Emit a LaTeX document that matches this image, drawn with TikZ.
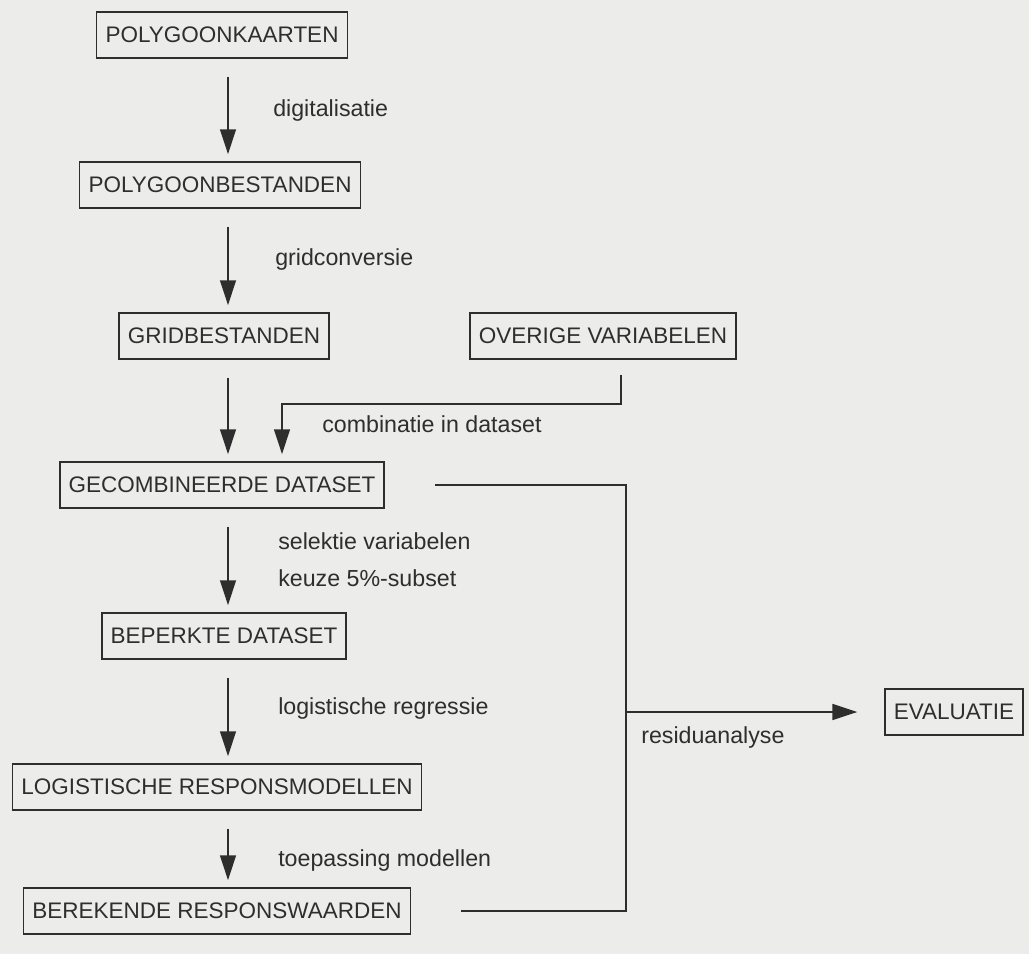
\documentclass[tikz,border=0pt]{standalone}
\usepackage{fontspec}
\setmainfont{Liberation Sans}
\usepackage{xcolor}
\usetikzlibrary{arrows.meta,calc,positioning}
\definecolor{ink}{HTML}{2E2E2E}
\definecolor{paper}{HTML}{ECECEA}
\tikzset{
  box/.style={draw=ink,line width=1pt,inner xsep=0.22cm,minimum height=1.15cm,
              text=ink,font=\fontsize{16}{19}\selectfont},
  steplabel/.style={anchor=west,text=ink,font=\fontsize{16.5}{19}\selectfont,inner sep=0},
  flow/.style={-{Triangle[length=0.62cm,width=0.4cm]},line width=1.1pt,draw=ink,
               shorten <=0.45cm,shorten >=0.18cm},
  wire/.style={line width=1.1pt,draw=ink}
}
\begin{document}
\begin{tikzpicture}[x=0.025cm,y=-0.025cm]
  \fill[paper] (0,0) rectangle (1029,954);
  \useasboundingbox (0,0) rectangle (1029,954);
  % main column
  \node[box] (pk) at (222,35)  {POLYGOONKAARTEN};
  \node[box] (pb) at (220,185) {POLYGOONBESTANDEN};
  \node[box] (gb) at (224,336) {GRIDBESTANDEN};
  \node[box] (ov) at (603,336) {OVERIGE VARIABELEN};
  \node[box] (gd) at (222,485) {GECOMBINEERDE DATASET};
  \node[box] (bd) at (224,636) {BEPERKTE DATASET};
  \node[box] (lr) at (217,787) {LOGISTISCHE RESPONSMODELLEN};
  \node[box] (br) at (217,911) {BEREKENDE RESPONSWAARDEN};
  \node[box] (ev) at (954,712) {EVALUATIE};
  % guide lines for the connectors
  \coordinate (ax) at (228,0);
  \coordinate (cx) at (282,0);
  \coordinate (ox) at (621,0);
  \coordinate (cy) at (0,404);
  \coordinate (rx) at (626,0);
  % vertical steps
  \foreach \a/\b in {pk/pb,pb/gb,gb/gd,gd/bd,bd/lr,lr/br}{
    \draw[flow] (\a.south -| ax) -- (\b.north -| ax);}
  \draw[flow,shorten <=0.375cm] (ov.south -| ox) |- (cx |- cy) -- (gd.north -| cx);
  % residual branch
  \draw[wire] ([xshift=1.25cm]gd.east) -- (gd.east -| rx) -- (br.east -| rx)
              -- ([xshift=1.25cm]br.east);
  \draw[flow,shorten <=0pt,shorten >=0.675cm] (ev.west -| rx) -- (ev.west);
  % labels
  \node[steplabel] (l1) at (273,110) {digitalisatie};
  \node[steplabel] (l2) at (275,259) {gridconversie};
  \node[steplabel] (l3) at (322,424) {combinatie in dataset};
  \node[steplabel] (l4) at (278,541) {selektie variabelen};
  \node[steplabel] (l5) at (278,578) {keuze 5\%-subset};
  \node[steplabel] (l6) at (278,708) {logistische regressie};
  \node[steplabel] (l7) at (278,860) {toepassing modellen};
  \node[steplabel] (l8) at (641,737) {residuanalyse};
\end{tikzpicture}
\end{document}
